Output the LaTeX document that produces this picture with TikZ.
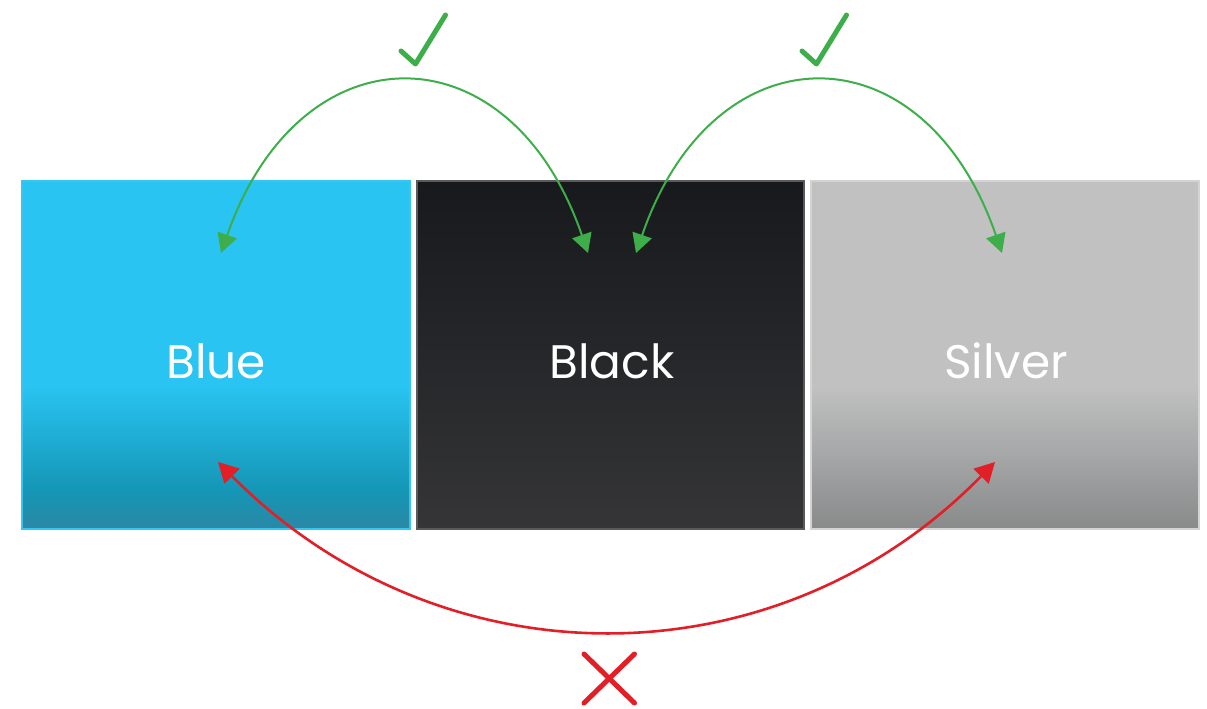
\documentclass[tikz,border=0pt]{standalone}
\usepackage{fontspec}
\newfontfamily\labfont{Poppins}
\usetikzlibrary{arrows.meta}
\definecolor{bluetop}{HTML}{29C4F1}
\definecolor{bluemid}{HTML}{1596B6}
\definecolor{bluebot}{HTML}{2A88A5}
\definecolor{blueborder}{HTML}{36C7F1}
\definecolor{blacktop}{HTML}{17191C}
\definecolor{blackbot}{HTML}{353537}
\definecolor{blackborder}{HTML}{5A5A5A}
\definecolor{silvertop}{HTML}{C0C1C0}
\definecolor{silvermid}{HTML}{A6A8A9}
\definecolor{silverbot}{HTML}{898A8A}
\definecolor{silverborder}{HTML}{D2D3D2}
\definecolor{okgreen}{HTML}{3DAE4A}
\definecolor{nored}{HTML}{E21F26}
\pgfdeclareverticalshading{blueshade}{100bp}{color(0bp)=(bluebot); color(25bp)=(bluebot); color(30.6bp)=(bluemid); color(45.6bp)=(bluetop); color(100bp)=(bluetop)}
\pgfdeclareverticalshading{blackshade}{100bp}{color(0bp)=(blackbot); color(25bp)=(blackbot); color(75bp)=(blacktop); color(100bp)=(blacktop)}
\pgfdeclareverticalshading{silvershade}{100bp}{color(0bp)=(silverbot); color(25bp)=(silverbot); color(36bp)=(silvermid); color(45.6bp)=(silvertop); color(100bp)=(silvertop)}
\tikzset{
  colbox/.style={rectangle, minimum width=387.5pt, minimum height=347.5pt, inner sep=0pt, line width=2pt},
  collabel/.style={anchor=base, text=white, font=\labfont\fontsize{47}{47}\selectfont, inner sep=0pt},
  okarc/.style={draw=okgreen, line width=2pt, {Triangle[length=19pt,width=20pt]}-{Triangle[length=19pt,width=20pt]}, okgreen},
  noarc/.style={draw=nored, line width=2.6pt, {Triangle[length=20pt,width=21pt]}-{Triangle[length=20pt,width=21pt]}, nored},
  tick/.style={draw=okgreen, line width=5pt, line cap=round, line join=round},
  cross/.style={draw=nored, line width=5pt, line cap=round}
}
\begin{document}
\begin{tikzpicture}[x=1pt,y=-1pt]
\useasboundingbox (0,0) rectangle (1207,709);
% boxes
\node[colbox, shading=blueshade, draw=blueborder] (blue) at (215.75,354.75) {};
\node[colbox, shading=blackshade, draw=blackborder] (black) at (610.25,354.75) {};
\node[colbox, shading=silvershade, draw=silverborder] (silver) at (1005,354.75) {};
% labels
\node[collabel] (lblue) at (216,378) {Blue};
\node[collabel] (lblack) at (612,378) {Black};
\node[collabel] (lsilver) at (1006,378) {Silver};
% arrow end points
\coordinate (g1a) at (221,253);
\coordinate (g1b) at (588,253);
\coordinate (g2a) at (636,253);
\coordinate (g2b) at (1002,253);
\coordinate (ra) at (218,462);
\coordinate (rb) at (995,462);
% green arcs
\draw[okarc] (g1a) .. controls (300,26) and (510,26) .. (g1b);
\draw[okarc] (g2a) .. controls (714,26) and (924,26) .. (g2b);
% red arc
\draw[noarc] (ra) .. controls (440,686) and (776,686) .. (rb);
% check marks
\coordinate (t1a) at (401,51);
\coordinate (t1b) at (415.5,64);
\coordinate (t1c) at (445.5,15);
\draw[tick] (t1a) -- (t1b) -- (t1c);
\coordinate (t2a) at (802,51);
\coordinate (t2b) at (816.5,64);
\coordinate (t2c) at (846.5,15);
\draw[tick] (t2a) -- (t2b) -- (t2c);
% cross
\coordinate (c1) at (584,654);
\coordinate (c2) at (634.5,703);
\coordinate (c3) at (584,703);
\coordinate (c4) at (634.5,654);
\draw[cross] (c1) -- (c2);
\draw[cross] (c3) -- (c4);
\end{tikzpicture}
\end{document}
